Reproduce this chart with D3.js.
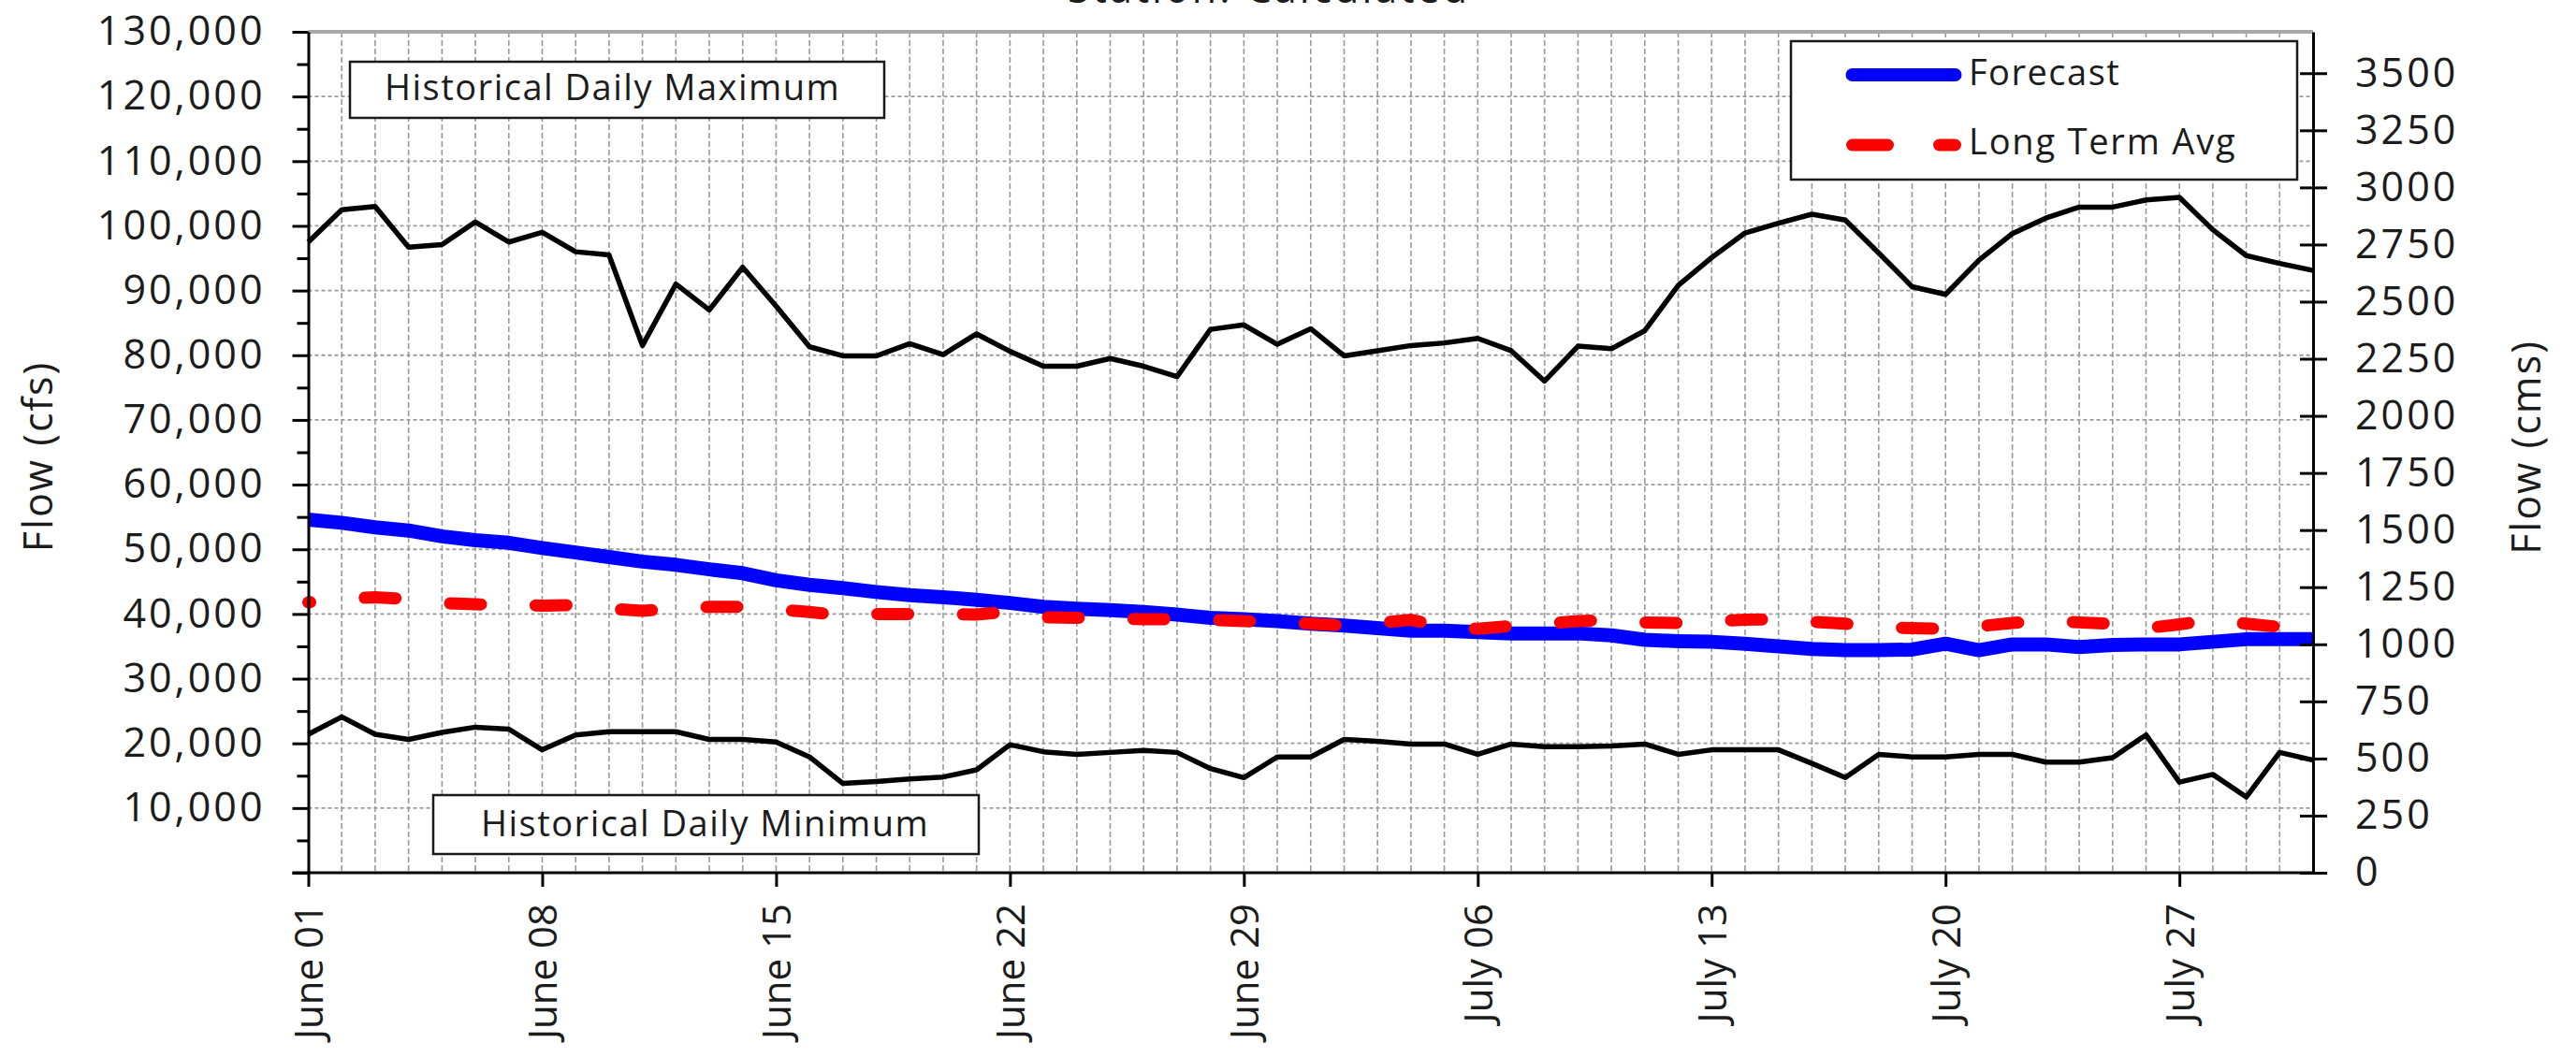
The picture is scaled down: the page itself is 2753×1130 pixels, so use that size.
<!DOCTYPE html>
<html><head><meta charset="utf-8">
<script src="https://cdn.jsdelivr.net/npm/d3@7"></script>
<style>
body{margin:0;background:#fff;}
text{font-family:"Open Sans",sans-serif;fill:#1c1c1c;}
</style>
</head><body>
<svg id="c" width="2753" height="1130"></svg>
<script>
// ---- data ----
const firstDay = [2023, 5, 1];            // June 01
const dayCount = 61;                      // June 01 .. July 31
const weeklyTickDays = [0, 7, 14, 21, 28, 35, 42, 49, 56];
const cfsTicks = [0,10000,20000,30000,40000,50000,60000,70000,80000,90000,100000,110000,120000,130000];
const cmsTicks = [0,250,500,750,1000,1250,1500,1750,2000,2250,2500,2750,3000,3250,3500];
const seriesNames = ["Forecast", "Long Term Avg"];
const boxLabels = ["Historical Daily Maximum", "Historical Daily Minimum"];
const titleText = "Station: Calculated";

const histMax = [97500,102500,103000,96700,97100,100600,97500,99000,96000,95500,
  81500,91000,87000,93600,87600,81300,79900,79900,81800,80100,
  83300,80600,78300,78300,79500,78300,76700,84000,84700,81700,
  84100,79900,80700,81500,81900,82600,80700,76000,81400,81000,
  83800,90800,95100,98900,100400,101800,100900,95800,90600,89400,
  94700,98800,101200,102900,102900,104000,104400,99400,95400,94200,93100];
const histMin = [21400,24100,21400,20600,21700,22500,22200,19000,21300,21800,
  21800,21800,20600,20600,20200,17900,13800,14100,14500,14800,
  15900,19800,18700,18300,18600,18900,18600,16100,14700,17900,
  17900,20600,20300,19900,19900,18300,19900,19500,19500,19600,
  19900,18300,19000,19000,19000,16900,14700,18300,17900,17900,
  18300,18300,17100,17100,17800,21300,14000,15200,11700,18600,17400];
const forecast = [54600,54100,53400,52900,52000,51400,51000,50200,49500,48800,
  48100,47600,46900,46300,45200,44500,44000,43400,42900,42600,
  42200,41700,41100,40800,40600,40300,39900,39400,39200,38900,
  38500,38200,37800,37400,37400,37200,37000,37000,37000,36700,
  36000,35800,35700,35400,35000,34600,34400,34400,34500,35400,
  34400,35300,35300,34900,35200,35300,35300,35700,36100,36100,36100];
const longTermAvg = [41800,42300,42600,42300,41700,41500,41400,41300,41400,40800,
  40500,40800,41100,41100,40700,40300,39800,40000,40000,40000,
  39900,40400,39500,39400,39300,39200,39200,39100,38900,38700,
  38500,38200,38600,39100,38000,37700,38150,38500,38900,39100,
  38700,38600,38900,39100,39200,38800,38500,38000,37800,37700,
  38100,38600,39000,38700,38500,37800,38400,39100,38500,38000,38000];
const CFS_PER_CMS = 35.3147;

// ---- layout ----
const L = 329.5, R = 2472, T = 34, B = 933;
const svg = d3.select("#c");
const dates = d3.range(dayCount).map(i => new Date(Date.UTC(firstDay[0], firstDay[1], firstDay[2] + i)));

const x = d3.scaleUtc().domain([dates[0], dates[dayCount - 1]]).range([L, R]);
const y = d3.scaleLinear().domain([0, 130000]).range([B, T]);
const yR = d3.scaleLinear().domain([0, 130000 / CFS_PER_CMS]).range([B, T]);

// grid
const grid = svg.append("g");
grid.selectAll("line.v").data(dates.slice(1, -1)).join("line")
  .attr("x1", d => x(d)).attr("x2", d => x(d)).attr("y1", T).attr("y2", B)
  .attr("stroke", "#9a9a9a").attr("stroke-width", 1.6).attr("stroke-dasharray", "6,3");
grid.selectAll("line.h").data(cfsTicks.slice(1, -1)).join("line")
  .attr("x1", L).attr("x2", R).attr("y1", d => y(d)).attr("y2", d => y(d))
  .attr("stroke", "#9a9a9a").attr("stroke-width", 1.8).attr("stroke-dasharray", "4,3");
// top frame
svg.append("line").attr("x1", L).attr("x2", R).attr("y1", T).attr("y2", T)
  .attr("stroke", "#a8a8a8").attr("stroke-width", 4);

// lines
const line = d3.line().x((d, i) => x(dates[i])).y(d => y(d));
svg.append("path").datum(histMax).attr("d", line).attr("fill", "none")
  .attr("stroke", "#000").attr("stroke-width", 5.5).attr("stroke-linejoin", "round");
svg.append("path").datum(histMin).attr("d", line).attr("fill", "none")
  .attr("stroke", "#000").attr("stroke-width", 5.5).attr("stroke-linejoin", "round");
svg.append("path").datum(forecast).attr("d", line).attr("fill", "none")
  .attr("stroke", "#0000ff").attr("stroke-width", 15).attr("stroke-linejoin", "round");
svg.append("path").datum(longTermAvg).attr("d", line).attr("fill", "none")
  .attr("stroke", "#ff0000").attr("stroke-width", 13).attr("stroke-linecap", "round")
  .attr("stroke-dasharray", "33,58.5").attr("stroke-dashoffset", 31);

// boxes
function box(x0, y0, w, h, label, tx, ty) {
  svg.append("rect").attr("x", x0).attr("y", y0).attr("width", w).attr("height", h)
    .attr("fill", "#fff").attr("stroke", "#1a1a1a").attr("stroke-width", 2.5);
  svg.append("text").attr("x", tx).attr("y", ty).text(label)
    .style("font-size", "38px").style("letter-spacing", "1.5px");
}
box(374, 66, 571, 60, boxLabels[0], 411, 107);
box(463, 850, 583, 63, boxLabels[1], 514, 894);

// legend
svg.append("rect").attr("x", 1914).attr("y", 44).attr("width", 541).attr("height", 148)
  .attr("fill", "#fff").attr("stroke", "#1a1a1a").attr("stroke-width", 2.5);
svg.append("line").attr("x1", 1979.5).attr("x2", 2089.5).attr("y1", 80).attr("y2", 80)
  .attr("stroke", "#0000ff").attr("stroke-width", 14).attr("stroke-linecap", "round");
svg.append("line").attr("x1", 1979.5).attr("x2", 2089.5).attr("y1", 155).attr("y2", 155)
  .attr("stroke", "#ff0000").attr("stroke-width", 13).attr("stroke-linecap", "round")
  .attr("stroke-dasharray", "38,55");
svg.append("text").attr("x", 2104).attr("y", 91).text(seriesNames[0])
  .style("font-size", "38px").style("letter-spacing", "1.5px");
svg.append("text").attr("x", 2104).attr("y", 165).text(seriesNames[1])
  .style("font-size", "38px").style("letter-spacing", "1.8px");

// axes
const fmt = d3.format(",");
const axL = svg.append("g").attr("transform", `translate(${L},0)`)
  .call(d3.axisLeft(y).tickValues(cfsTicks).tickSize(17).tickSizeOuter(0).tickPadding(29)
    .tickFormat(d => d === 0 ? "" : fmt(d)));
const minorL = svg.append("g").attr("transform", `translate(${L},0)`)
  .call(d3.axisLeft(y).tickValues(cfsTicks.slice(0, -1).map(d => d + 5000)).tickSize(12).tickFormat(""));
minorL.select(".domain").remove();

const axR = svg.append("g").attr("transform", `translate(${R},0)`)
  .call(d3.axisRight(yR).tickValues(cmsTicks).tickSize(15).tickSizeOuter(0).tickPadding(30).tickFormat(d3.format("d")));
axR.selectAll(".tick line").attr("x1", -14);

const axB = svg.append("g").attr("transform", `translate(0,${B})`)
  .call(d3.axisBottom(x).tickValues(weeklyTickDays.map(i => dates[i])).tickSize(15).tickSizeOuter(0)
    .tickFormat(d3.utcFormat("%B %d")));
axB.select(".domain").attr("d", `M${L - 17},0H${R}`);

[axL, minorL, axR, axB].forEach(g => {
  g.selectAll(".domain").attr("stroke", "#000").attr("stroke-width", 3);
  g.selectAll(".tick line").attr("stroke", "#000").attr("stroke-width", 3);
  g.selectAll(".tick text").style("font-size", "43px").style("letter-spacing", "3px")
    .style("font-family", "'Open Sans',sans-serif").attr("fill", "#1c1c1c");
});
axB.selectAll(".tick text").attr("transform", "rotate(-90)")
  .attr("x", -33).attr("y", 15).attr("dy", 0).attr("text-anchor", "end")
  .style("font-size", "42px").style("letter-spacing", "0px");

// axis titles
svg.append("text").attr("transform", `translate(56,488) rotate(-90)`).attr("text-anchor", "middle")
  .text("Flow (cfs)").style("font-size", "43px").style("letter-spacing", "2px");
svg.append("text").attr("transform", `translate(2715,478) rotate(-90)`).attr("text-anchor", "middle")
  .text("Flow (cms)").style("font-size", "43px").style("letter-spacing", "2px");

// title (mostly above the visible area, as in the reference)
svg.append("text").attr("x", 1356).attr("y", 3).attr("text-anchor", "middle")
  .text(titleText).style("font-size", "43px").style("letter-spacing", "3px");
</script>
</body></html>
